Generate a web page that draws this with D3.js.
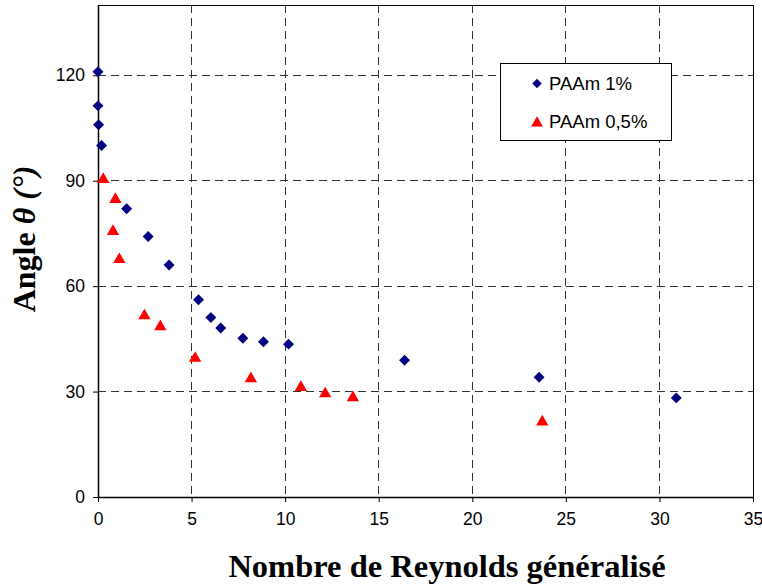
<!DOCTYPE html>
<html><head><meta charset="utf-8">
<script src="https://cdn.jsdelivr.net/npm/d3@7"></script>
<style>body{margin:0;background:#fff}svg{display:block}</style>
</head><body>
<svg id="c" width="762" height="586"></svg>
<script>
const seriesNames = ["PAAm 1%", "PAAm 0,5%"];
const paam1X = [0, 0, 0.03, 0.19, 1.53, 2.68, 3.8, 5.37, 6.03, 6.56, 7.74, 8.84, 10.18, 16.38, 23.57, 30.9];
const paam1Y = [121, 111.3, 105.9, 100, 82, 74.1, 66, 56.1, 51.1, 48.1, 45.2, 44.2, 43.5, 38.9, 34.1, 28.2];
const paam05X = [0.28, 0.93, 0.8, 1.14, 2.48, 3.33, 5.19, 8.17, 10.84, 12.14, 13.62, 23.74];
const paam05Y = [90.8, 85.1, 76, 68, 52.0, 48.9, 39.9, 34.1, 31.6, 29.8, 28.7, 21.8];
const xTicks = [0, 5, 10, 15, 20, 25, 30, 35];
const yTicks = [0, 30, 60, 90, 120];

const svg = d3.select("#c");
const L = 98, R = 753, T = 5, B = 497;
const x = d3.scaleLinear().domain([0, 35]).range([L, R]);
const y = d3.scaleLinear().domain([0, 140]).range([B, T]);

// grid
const g = svg.append("g");
g.selectAll(".vg").data(xTicks.filter(d => d > 0 && d < 35)).enter().append("line")
  .attr("x1", d => x(d)).attr("x2", d => x(d)).attr("y1", T).attr("y2", B)
  .attr("stroke", "#333").attr("stroke-width", 1).attr("stroke-dasharray", "8,5").attr("shape-rendering","crispEdges");
g.selectAll(".hg").data(yTicks.filter(d => d > 0)).enter().append("line")
  .attr("x1", L).attr("x2", R).attr("y1", d => y(d)).attr("y2", d => y(d))
  .attr("stroke", "#333").attr("stroke-width", 1).attr("stroke-dasharray", "8,5").attr("shape-rendering","crispEdges");

// border top/right
svg.append("line").attr("x1", L).attr("x2", R).attr("y1", T).attr("y2", T).attr("stroke", "#000").attr("shape-rendering","crispEdges");
svg.append("line").attr("x1", R).attr("x2", R).attr("y1", T).attr("y2", B).attr("stroke", "#000").attr("shape-rendering","crispEdges");

// axes
const xAxis = d3.axisBottom(x).tickValues(xTicks).tickSize(5).tickSizeOuter(0).tickPadding(11);
const yAxis = d3.axisLeft(y).tickValues(yTicks).tickSize(5).tickSizeOuter(0).tickPadding(8);
const gx = svg.append("g").attr("transform", `translate(0,${B})`).call(xAxis);
const gy = svg.append("g").attr("transform", `translate(${L},0)`).call(yAxis);
[gx, gy].forEach(a => {
  a.select(".domain").attr("stroke", "#000").attr("stroke-width", 1.5);
  a.selectAll(".tick line").attr("stroke", "#000");
  a.selectAll("text").attr("font-family", "Liberation Sans, Arial, sans-serif").attr("font-size", 17.5).attr("fill", "#000");
});

// markers
svg.append("g").selectAll("path").data(paam1X.map((d, i) => [d, paam1Y[i]])).enter().append("path")
  .attr("d", d3.symbol().type(d3.symbolSquare).size(60)())
  .attr("transform", d => `translate(${x(d[0])},${y(d[1])}) rotate(45)`)
  .attr("fill", "#000080");
svg.append("g").selectAll("path").data(paam05X.map((d, i) => [d, paam05Y[i]])).enter().append("path")
  .attr("d", d3.symbol().type(d3.symbolTriangle).size(66)())
  .attr("transform", d => `translate(${x(d[0])},${y(d[1]) + 1.5})`)
  .attr("fill", "#ff0000");

// legend
const lg = svg.append("g");
lg.append("rect").attr("x", 500.5).attr("y", 63.5).attr("width", 171).attr("height", 77)
  .attr("fill", "#fff").attr("stroke", "#000").attr("stroke-width", 1);
lg.append("path").attr("d", d3.symbol().type(d3.symbolSquare).size(45)())
  .attr("transform", "translate(537,83.5) rotate(45)").attr("fill", "#000080");
lg.append("path").attr("d", d3.symbol().type(d3.symbolTriangle).size(60)())
  .attr("transform", "translate(537,123)").attr("fill", "#ff0000");
lg.selectAll("text").data(seriesNames).enter().append("text")
  .attr("x", 549).attr("y", (d, i) => 90 + i * 38)
  .attr("font-family", "Liberation Sans, Arial, sans-serif").attr("font-size", 18.5).attr("fill", "#000")
  .text(d => d);

// axis titles
svg.append("text").attr("x", 447).attr("y", 577).attr("text-anchor", "middle")
  .attr("font-family", "Liberation Serif, Times New Roman, serif").attr("font-weight", "bold").attr("font-size", 32.5)
  .text("Nombre de Reynolds généralisé");
const yt = svg.append("text").attr("transform", "translate(35,239) rotate(-90)").attr("text-anchor", "middle")
  .attr("font-family", "Liberation Serif, Times New Roman, serif").attr("font-weight", "bold").attr("font-size", 32);
yt.append("tspan").text("Angle ");
yt.append("tspan").attr("font-style", "italic").text("θ (°)");
</script>
</body></html>
